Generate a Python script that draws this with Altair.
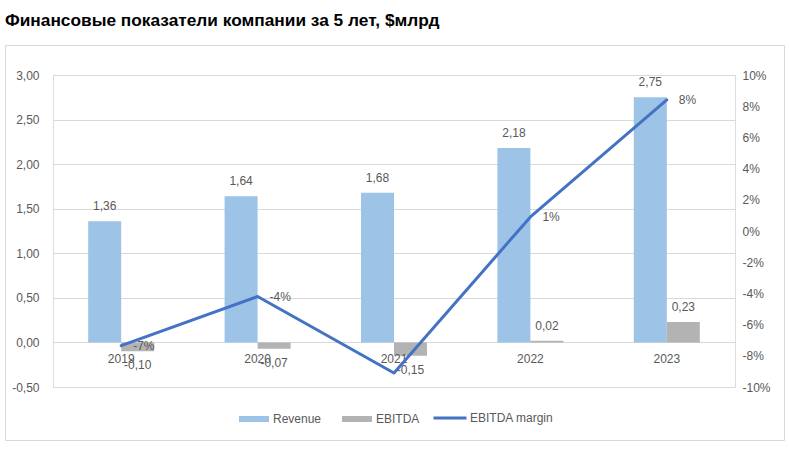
import altair as alt
import pandas as pd

# ---- data ----
years = ["2019", "2020", "2021", "2022", "2023"]
revenue = [1.36, 1.64, 1.68, 2.18, 2.75]
ebitda = [-0.10, -0.07, -0.15, 0.02, 0.23]
margin = [-0.0735, -0.042, -0.091, 0.009, 0.084]
margin_labels = ["-7%", "-4%", "", "1%", "8%"]
bar_series = ["Revenue", "EBITDA"]
bar_colors = ["#9DC3E6", "#B3B3B3"]
line_series = ["EBITDA margin"]
line_colors = ["#4472C4"]
left_ticks = [-0.5, 0.0, 0.5, 1.0, 1.5, 2.0, 2.5, 3.0]
right_ticks = [-0.10, -0.08, -0.06, -0.04, -0.02, 0.0, 0.02, 0.04, 0.06, 0.08, 0.10]
title_text = "Финансовые показатели компании за 5 лет, $млрд"

FONT = "Liberation Sans"
TXT = "#595959"
GRID = "#D9D9D9"


def fmt(v):
    return f"{v:.2f}".replace(".", ",")


rows = []
for y, r, e in zip(years, revenue, ebitda):
    rows.append(dict(year=y, series="Revenue", value=r, label=fmt(r), zero=0.0))
    rows.append(dict(year=y, series="EBITDA", value=e, label=fmt(e), zero=0.0))
bars_df = pd.DataFrame(rows)
line_df = pd.DataFrame(dict(year=years, margin=margin, label=margin_labels,
                            series=line_series * len(years)))

x_enc = alt.X("year:N", sort=years,
              scale=alt.Scale(paddingInner=0.516, paddingOuter=0.258), axis=None)
xoff = alt.XOffset("series:N", sort=bar_series,
                   scale=alt.Scale(domain=bar_series, paddingInner=0))

left_axis = alt.Axis(values=left_ticks,
                     labelExpr="replace(replace(format(datum.value,'.2f'),'.',','),'\u2212','-')",
                     grid=True, gridColor=GRID, gridWidth=1, domain=False, ticks=False,
                     labelPadding=14, labelColor=TXT, labelFont=FONT, labelFontSize=12,
                     title=None)
left_scale = alt.Scale(domain=[-0.5, 3.0], nice=False, zero=False)

sym_bar = "M-1,-0.2H1V0.2H-1Z"

color_enc = alt.Color(
    "series:N",
    sort=bar_series,
    scale=alt.Scale(domain=bar_series, range=bar_colors),
    legend=alt.Legend(
        title=None, orient="none", direction="horizontal",
        legendX=186, legendY=329,
        labelFont=FONT, labelFontSize=12, labelColor=TXT,
        symbolType=sym_bar, symbolSize=900, symbolStrokeWidth=0, symbolOpacity=1,
        labelOffset=4, columnPadding=20,
    ),
)

stroke_enc = alt.Stroke(
    "series:N",
    scale=alt.Scale(domain=line_series, range=line_colors),
    legend=alt.Legend(
        title=None, orient="none", direction="horizontal",
        legendX=379, legendY=325,
        labelFont=FONT, labelFontSize=12, labelColor=TXT,
        symbolType="stroke", symbolSize=1089, symbolStrokeWidth=3, symbolOpacity=1,
        labelOffset=2,
    ),
)

base = alt.Chart(bars_df)

bars = base.mark_bar().encode(
    x=x_enc, xOffset=xoff,
    y=alt.Y("value:Q", scale=left_scale, axis=left_axis),
    color=color_enc,
)

lab_pos = base.transform_filter("datum.value >= 0").mark_text(
    baseline="bottom", dy=-8, font=FONT, fontSize=12, color=TXT
).encode(x=x_enc, xOffset=xoff,
         y=alt.Y("value:Q", scale=left_scale, axis=left_axis), text="label:N")

lab_neg = base.transform_filter("datum.value < 0").mark_text(
    baseline="top", dy=9, font=FONT, fontSize=12, color=TXT
).encode(x=x_enc, xOffset=xoff,
         y=alt.Y("value:Q", scale=left_scale, axis=left_axis), text="label:N")

year_lab = base.transform_filter("datum.series === 'Revenue'").mark_text(
    baseline="top", dy=12, font=FONT, fontSize=12, color=TXT
).encode(x=x_enc, y=alt.Y("zero:Q", scale=left_scale, axis=left_axis), text="year:N")

frame = alt.Chart(alt.Data(values=[{}])).mark_rect(
    fill=None, stroke=GRID, strokeWidth=1
).encode(x=alt.value(-47.5), x2=alt.value(731.5), y=alt.value(-29.5), y2=alt.value(365.5))

left_layer = alt.layer(bars, lab_pos, lab_neg, year_lab)

right_scale = alt.Scale(domain=[-0.10, 0.10], nice=False, zero=False)
right_axis = alt.Axis(orient="right", values=right_ticks,
                      labelExpr="replace(format(datum.value,'.0%'),'\u2212','-')",
                      grid=False, domain=False, ticks=False, labelPadding=7,
                      labelColor=TXT, labelFont=FONT, labelFontSize=12, title=None)

line = alt.Chart(line_df).mark_line(strokeWidth=3, strokeCap="round", strokeJoin="round").encode(
    x=x_enc,
    y=alt.Y("margin:Q", scale=right_scale, axis=right_axis),
    stroke=stroke_enc,
)
line_lab = alt.Chart(line_df).mark_text(
    align="left", baseline="middle", dx=12, font=FONT, fontSize=12, color=TXT
).encode(x=x_enc, y=alt.Y("margin:Q", scale=right_scale, axis=right_axis), text="label:N")

right_layer = alt.layer(line, line_lab)

chart = alt.layer(frame, left_layer, right_layer).resolve_scale(y="independent").properties(
    width=682, height=312,
    autosize=alt.AutoSizeParams(type="none"),
    padding={"left": 53, "top": 75, "right": 54, "bottom": 67},
    title=alt.Title(title_text, anchor="start", frame="group", dx=-48, offset=16,
                    font=FONT, fontSize=17.3, fontWeight="bold", color="#000000"),
).configure_view(stroke=None).configure(background="white")

chart.save("out.html", embed_options={"renderer": "svg", "actions": False})
